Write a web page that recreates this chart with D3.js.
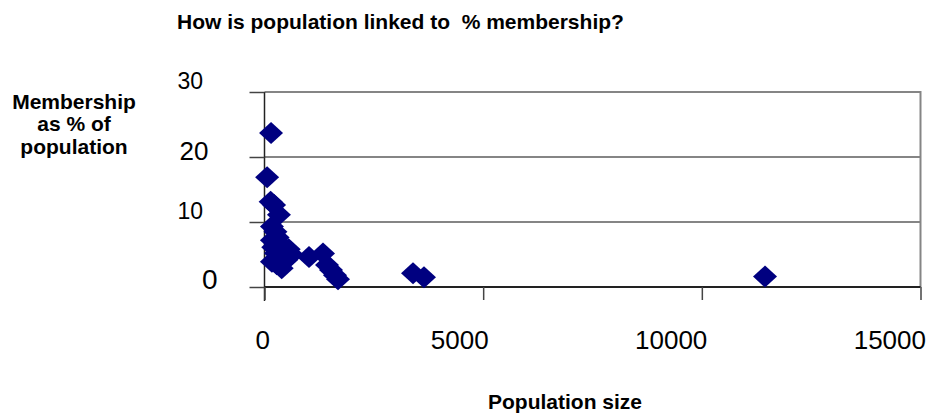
<!DOCTYPE html>
<html>
<head>
<meta charset="utf-8">
<script src="https://cdn.jsdelivr.net/npm/d3@7"></script>
<style>
  html, body { margin: 0; padding: 0; background: #fff; }
  svg { display: block; font-family: "Liberation Sans", Arial, sans-serif; }
</style>
</head>
<body>
<svg id="chart" width="935" height="416"></svg>
<script>
// Population of each place and its membership as a share of that population
const population = [150, 60, 140, 220, 330, 170, 250, 300, 170, 200, 380, 450, 553, 350, 170, 280, 393, 500, 620, 260,
                    1018, 1338, 1429, 1521, 1612, 1681, 3396, 3647, 11445];
const membershipPct = [23.7, 16.9, 13.1, 12.6, 11.1, 9.3, 8.5, 7.6, 7.2, 6.1, 6.5, 5.6, 5.8, 4.8, 3.9, 3.5, 2.9, 4.2, 5.0, 5.2,
                       4.6, 5.15, 3.4, 2.6, 1.8, 1.2, 2.1, 1.5, 1.6];
const xTicks = [0, 5000, 10000, 15000];
const yTicks = [0, 10, 20, 30];
const titleText = "How is population linked to  % membership?";
const xTitle = "Population size";
const yTitleLines = ["Membership", "as % of", "population"];

const points = population.map((p, i) => ({ pop: p, pct: membershipPct[i] }));

const svg = d3.select("#chart");
const plot = { left: 264.5, right: 920.5, top: 92, bottom: 287 };

const x = d3.scaleLinear().domain([0, 15000]).range([plot.left, plot.right]);
const y = d3.scaleLinear().domain([0, 30]).range([plot.bottom, plot.top]);

// Horizontal gridlines and plot frame
svg.append("g").selectAll("line").data(yTicks.filter(v => v > 0)).join("line")
  .attr("x1", plot.left).attr("x2", plot.right)
  .attr("y1", d => y(d)).attr("y2", d => y(d))
  .attr("stroke", "#858585").attr("stroke-width", 2);
svg.append("line")
  .attr("x1", plot.right).attr("x2", plot.right)
  .attr("y1", plot.top - 1).attr("y2", plot.bottom)
  .attr("stroke", "#858585").attr("stroke-width", 2);

// Y axis: ticks reach out to the left
const yAxis = svg.append("g")
  .attr("transform", `translate(${plot.left},0)`)
  .call(d3.axisLeft(y).tickValues(yTicks).tickSize(15).tickSizeOuter(0).tickFormat(d3.format("d")));
yAxis.select(".domain").attr("stroke", "#222").attr("stroke-width", 1.5)
  .attr("d", `M0,${plot.top}V${plot.bottom + 14}`);
yAxis.selectAll(".tick line").attr("stroke", "#444").attr("stroke-width", 1.5);

// Per-label type size and nudge for the value labels on the y axis
function yLabelStyle(v) {
  if (v === 0) return { size: 28, right: -47, base: 1 };
  if (v === 20) return { size: 26, right: -56, base: 2 };
  return { size: 23, right: -61.5, base: -4 };
}
yAxis.selectAll(".tick text")
  .each(function (d) {
    const s = yLabelStyle(d);
    d3.select(this)
      .attr("font-size", s.size)
      .attr("fill", "#000")
      .attr("text-anchor", "end")
      .attr("x", s.right)
      .attr("dy", null)
      .attr("y", s.base);
  });

// X axis: ticks hang below the baseline
const xAxis = svg.append("g")
  .attr("transform", `translate(0,${plot.bottom})`)
  .call(d3.axisBottom(x).tickValues(xTicks).tickSize(13).tickSizeOuter(0).tickFormat(d3.format("d")));
xAxis.select(".domain").attr("stroke", "#222").attr("stroke-width", 2)
  .attr("d", `M${plot.left},0H${plot.right}`);
xAxis.selectAll(".tick line").attr("stroke", "#444").attr("stroke-width", 1.5);
xAxis.selectAll(".tick text")
  .attr("font-size", 26)
  .attr("fill", "#000")
  .attr("text-anchor", "end")
  .attr("x", 5)
  .attr("dy", null)
  .attr("y", 62);

// Diamond markers
const hw = 12, hh = 11;
svg.append("g").selectAll("path").data(points).join("path")
  .attr("d", d => {
    const cx = x(d.pop), cy = y(d.pct);
    return `M${cx - hw},${cy}L${cx},${cy - hh}L${cx + hw},${cy}L${cx},${cy + hh}Z`;
  })
  .attr("fill", "#000080");

// Titles
svg.append("text")
  .attr("x", 177).attr("y", 29)
  .attr("font-size", 21).attr("font-weight", "bold")
  .attr("xml:space", "preserve")
  .style("white-space", "pre")
  .text(titleText);

svg.append("text")
  .attr("x", 565).attr("y", 409)
  .attr("text-anchor", "middle")
  .attr("font-size", 21).attr("font-weight", "bold")
  .text(xTitle);

svg.append("g").selectAll("text").data(yTitleLines).join("text")
  .attr("x", 74).attr("y", (d, i) => 108.5 + i * 22.5)
  .attr("text-anchor", "middle")
  .attr("font-size", 21).attr("font-weight", "bold")
  .text(d => d);
</script>
</body>
</html>
